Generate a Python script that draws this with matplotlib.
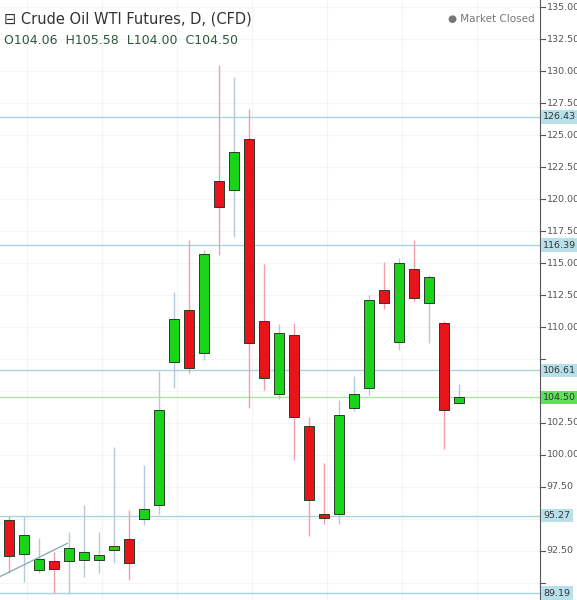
import matplotlib
matplotlib.use("Agg")
import matplotlib.pyplot as plt
import numpy as np

opens  = [94.92,92.3,91.0,91.7,91.7,91.8,91.8,92.55,93.4,95.0,96.1,107.3,111.3,108.0,121.4,120.7,124.7,110.5,104.8,109.4,102.3,95.4,95.4,103.7,105.2,112.9,108.8,114.5,111.9,110.3,104.06]
closes = [92.1,93.75,91.9,91.1,92.7,92.45,92.15,92.9,91.6,95.8,103.5,110.6,106.8,115.7,119.4,123.7,108.75,106.0,109.5,103.0,96.5,95.1,103.1,104.8,112.1,111.9,115.0,112.3,113.9,103.5,104.5]
highs  = [95.2,95.2,93.5,92.4,94.0,96.1,94.0,100.6,95.7,99.2,106.6,112.7,116.8,116.0,130.5,129.5,127.0,114.9,110.2,110.3,103.0,99.4,104.3,106.2,112.5,115.1,115.4,116.8,114.1,110.5,105.58]
lows   = [90.8,90.1,90.8,89.2,89.2,90.5,90.8,91.6,90.2,94.5,95.4,105.2,106.4,107.4,115.6,117.0,103.7,105.1,104.4,99.6,93.7,94.6,94.6,103.4,104.7,111.4,108.2,112.0,108.75,100.5,104.0]
levels = [126.43,116.39,106.61,95.27,89.19]
last_price = 104.50
yticks = np.arange(90,135.01,2.5)

fig = plt.figure(figsize=(5.77,6.0),dpi=100)
ax = fig.add_axes([0,0,540/577,1])
x = np.arange(len(opens))
for i in x:
    o,c,h,l = opens[i],closes[i],highs[i],lows[i]
    up = c>=o
    col = '#1ad41a' if up else '#e8141a'
    wick = '#b8c8d8' if up else '#f0a0a8'
    ax.vlines(i,l,h,color=wick,lw=1,zorder=2)
    ax.bar(i,abs(c-o) if abs(c-o)>0.15 else 0.2,bottom=min(o,c),width=0.68,color=col,edgecolor='#2a3a2a',lw=0.7,zorder=3)
for lv in levels:
    ax.axhline(lv,color='#a8d4e0',lw=1,zorder=1)
ax.axhline(last_price,color='#a8e8a0',lw=1,zorder=1)
ax.plot([-0.6,3.9],[90.5,93.1],color='#7fa8b8',lw=0.9,zorder=4)
for xv in np.arange(0,36,5):
    ax.axvline(xv+1.2,color='#f2f4f6',lw=0.8,zorder=0)
for yv in yticks:
    ax.axhline(yv,color='#f2f4f6',lw=0.8,zorder=0)
ax.set_xlim(-0.6,35.4)
ax.set_ylim(88.67,135.55)
ax.set_xticks([]); ax.set_yticks([])
for s in ['top','left','bottom']:
    ax.spines[s].set_visible(False)
ax.spines['right'].set_color('#555555')
tr = ax.get_yaxis_transform()
marks = levels + [last_price]
for yv in yticks:
    ax.plot([1,1.01],[yv,yv],transform=tr,color='#555555',lw=0.8,clip_on=False)
    if min(abs(yv-m) for m in marks) < 0.9:
        continue
    ax.text(1.012,yv,f'{yv:.2f}',transform=tr,va='center',ha='left',fontsize=6.8,color='#555555',clip_on=False)
for lv in levels:
    ax.text(1.006,lv,f'{lv:.2f}',transform=tr,va='center',ha='left',fontsize=6.8,color='#333333',clip_on=False,zorder=10,
            bbox=dict(boxstyle='square,pad=0.25',fc='#b8e0ea',ec='none'))
ax.text(1.006,last_price,f'{last_price:.2f}',transform=tr,va='center',ha='left',fontsize=6.8,color='#333333',clip_on=False,zorder=10,
        bbox=dict(boxstyle='square,pad=0.25',fc='#5ee05e',ec='none'))
fig.text(4/577,1-19/600,'⊟ Crude Oil WTI Futures, D, (CFD)',fontsize=10.5,color='#333333',va='center')
fig.text(4/577,1-41/600,'O104.06  H105.58  L104.00  C104.50',fontsize=9,color='#2a5a3a',va='center')
fig.text(535/577,1-19/600,'● Market Closed',fontsize=7.5,color='#777777',va='center',ha='right')
fig.savefig('out.png',dpi=100)
